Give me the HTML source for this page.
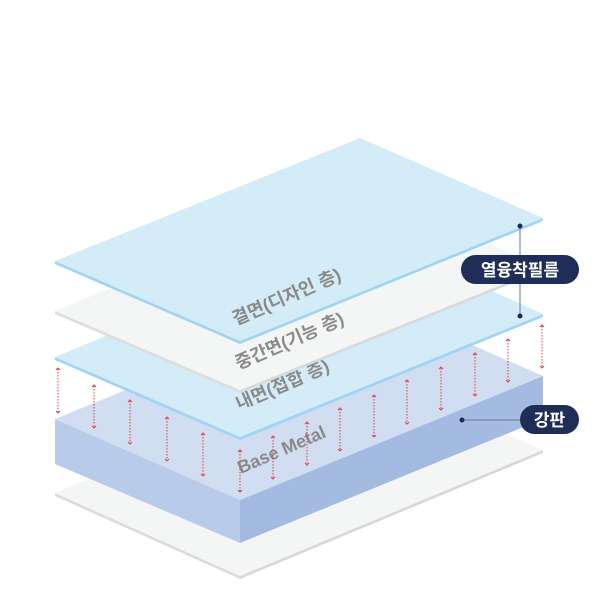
<!DOCTYPE html>
<html><head><meta charset="utf-8"><style>
html,body{margin:0;padding:0;background:#fff;}
svg{display:block}
text{font-family:"Liberation Sans","Noto Sans CJK KR",sans-serif;font-weight:bold}
</style></head><body>
<svg width="600" height="600" viewBox="0 0 600 600">
<!-- bottom plate -->
<polygon points="55,493 240,576 240,579 55,496" fill="#dcdcdc"/>
<polygon points="240,576 543,450 543,453 240,579" fill="#d8d8d8"/>
<polygon points="55,493 358,369 543,450 240,576" fill="#f4f6f6"/>
<!-- base metal -->
<polygon points="55,419 240,500 240,543 55,464" fill="#b9cbea"/>
<polygon points="240,500 543,376 543,419 240,543" fill="#a3bbe1"/>
<polygon points="55,419 358,295 543,376 240,500" fill="#d1ddf0"/>
<text font-size="18" fill="#8a8a8a" dominant-baseline="middle" transform="translate(282,451) rotate(-23.4)" text-anchor="middle">Base Metal</text>
<!-- arrows -->
<g stroke="#e04050" stroke-width="1" fill="none">
<g stroke-dasharray="1.5,1.5">
<line x1="58" y1="369" x2="58" y2="412"/>
<line x1="94" y1="386" x2="94" y2="427"/>
<line x1="130" y1="401" x2="130" y2="443"/>
<line x1="167" y1="418" x2="167" y2="460"/>
<line x1="203" y1="434" x2="203" y2="475"/>
<line x1="240" y1="451" x2="240" y2="491"/>
<line x1="273" y1="437" x2="273" y2="478"/>
<line x1="307" y1="423" x2="307" y2="464"/>
<line x1="340" y1="409" x2="340" y2="450"/>
<line x1="374" y1="396" x2="374" y2="436"/>
<line x1="407" y1="381" x2="407" y2="423"/>
<line x1="441" y1="368" x2="441" y2="409"/>
<line x1="475" y1="354" x2="475" y2="395"/>
<line x1="508" y1="340" x2="508" y2="381"/>
<line x1="542" y1="326" x2="542" y2="367"/>
</g>
<path d="M56,370l2,-2l2,2M56,411l2,2l2,-2 M92,387l2,-2l2,2M92,426l2,2l2,-2 M128,402l2,-2l2,2M128,442l2,2l2,-2 M165,419l2,-2l2,2M165,459l2,2l2,-2 M201,435l2,-2l2,2M201,474l2,2l2,-2 M238,452l2,-2l2,2M238,490l2,2l2,-2 M271,438l2,-2l2,2M271,477l2,2l2,-2 M305,424l2,-2l2,2M305,463l2,2l2,-2 M338,410l2,-2l2,2M338,449l2,2l2,-2 M372,397l2,-2l2,2M372,435l2,2l2,-2 M405,382l2,-2l2,2M405,422l2,2l2,-2 M439,369l2,-2l2,2M439,408l2,2l2,-2 M473,355l2,-2l2,2M473,394l2,2l2,-2 M506,341l2,-2l2,2M506,380l2,2l2,-2 M540,327l2,-2l2,2M540,366l2,2l2,-2"/>
</g>
<!-- film 3 -->
<polygon points="55,357 240,437 240,440 55,360" fill="#9fd4f4"/>
<polygon points="240,437 543,314 543,317 240,440" fill="#9fd4f4"/>
<polygon points="55,357 360,231 543,314 240,437" fill="#d4ebf8"/>
<text font-size="18" fill="#8a8a8a" dominant-baseline="middle" transform="translate(283,386) rotate(-23.4)" text-anchor="middle">내면(접합 층)</text>
<!-- film 2 -->
<polygon points="55,311 240,390 240,393 55,314" fill="#dedede"/>
<polygon points="240,390 543,268 543,271 240,393" fill="#dadada"/>
<polygon points="55,311 360,185 543,268 240,390" fill="#f4f6f6"/>
<text font-size="18" fill="#8a8a8a" dominant-baseline="middle" transform="translate(290,342) rotate(-23.4)" text-anchor="middle">중간면(기능 층)</text>
<!-- film 1 -->
<polygon points="55,261 240,341 240,344 55,264" fill="#9fd4f4"/>
<polygon points="240,341 543,218 543,221 240,344" fill="#9fd4f4"/>
<polygon points="55,261 360,138 543,218 240,341" fill="#d4ebf8"/>
<text font-size="18" fill="#8a8a8a" dominant-baseline="middle" transform="translate(287,298) rotate(-23.4)" text-anchor="middle">결면(디자인 층)</text>
<!-- labels -->
<line x1="520" y1="226" x2="520" y2="316" stroke="#6a7894" stroke-width="1"/>
<circle cx="520" cy="226" r="2.5" fill="#1e2d55"/>
<circle cx="520" cy="316" r="2.5" fill="#1e2d55"/>
<rect x="461" y="255" width="118" height="29" rx="14.5" fill="#1f2e57"/>
<text x="520" y="276" font-size="17" fill="#fff" text-anchor="middle">열융착필름</text>
<line x1="462" y1="420" x2="522" y2="420" stroke="#6a7894" stroke-width="1"/>
<circle cx="462" cy="420" r="2.5" fill="#1e2d55"/>
<rect x="520" y="405" width="59" height="29" rx="14.5" fill="#1f2e57"/>
<text x="549.5" y="426" font-size="17" fill="#fff" text-anchor="middle">강판</text>
</svg>
</body></html>
